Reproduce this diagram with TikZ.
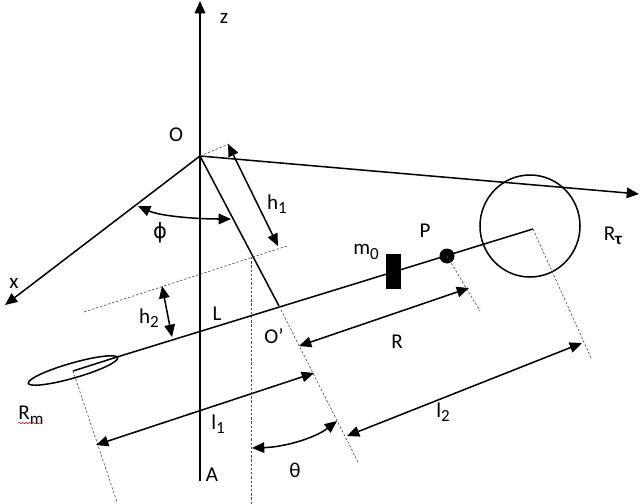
\documentclass[tikz,border=0pt]{standalone}
\usepackage{fontspec}
\setmainfont{Carlito}
\newfontfamily\symbfont{DejaVu Sans}
\usetikzlibrary{arrows.meta,decorations.pathmorphing}
\newcommand{\lowtxt}[1]{\raisebox{-0.45ex}{\fontsize{14.5}{15}\selectfont #1}}
\tikzset{
    tipshape/.tip={Triangle[length=10.5pt,width=9pt]},
    axisline/.style={line width=1.3pt},
    arrowline/.style={line width=1.3pt, -tipshape},
    bothline/.style={line width=1.3pt, tipshape-tipshape},
    guideline/.style={gray!60!black, line width=0.55pt, dash pattern=on 2pt off 1.6pt},
    lbl/.style={inner sep=0pt, font=\fontsize{18}{20}\selectfont}
}
\begin{document}
\begin{tikzpicture}[x=0.03cm, y=-0.03cm]
    \useasboundingbox (0,0) rectangle (640,504);

    \coordinate (O) at (200,156);
    \coordinate (Ztop) at (200,1);
    \coordinate (A) at (200,481);
    \coordinate (X) at (5,305);
    \coordinate (Y) at (639,194);
    \coordinate (Op) at (279,306);
    \coordinate (Opend) at (359,464);
    \coordinate (Bm) at (73,371);
    \coordinate (Bt) at (533,229);
    \coordinate (Bm2) at (117,357);
    \coordinate (P) at (447,256);
    \coordinate (Pend) at (480,311);
    \coordinate (Btend) at (592,360);
    \coordinate (Bmend) at (117,502);
    \coordinate (Vtop) at (251,257);
    \coordinate (Vend) at (251,504);
    \coordinate (Ha) at (84,312);
    \coordinate (Hb) at (287,246);
    \coordinate (Hc) at (229,144);

    % Axes and the main rods.
    \draw [arrowline] (A) -- (Ztop);
    \draw [arrowline] (O) -- (X);
    \draw [arrowline] (O) -- (Y);
    \draw [axisline] (O) -- (Op);
    \draw [axisline] (Bm) -- (Bm2);
    \draw [axisline] (Bm2) -- (Bt);

    % Rings and the mass.
    \draw [axisline] (73,370.5) ellipse [x radius=46.5, y radius=7.5, rotate=16];
    \draw [axisline] (530,226) circle [x radius=50, y radius=51];
    \fill (386,254) rectangle (401,289);
    \fill (P) circle [radius=7.5];

    % Thin guides.
    \draw [guideline] (Op) -- (Opend);
    \draw [guideline] (P) -- (Pend);
    \draw [guideline] (Bt) -- (Btend);
    \draw [guideline] (Bm) -- (Bmend);
    \draw [guideline] (Vtop) -- (Vend);
    \draw [guideline] (Ha) -- (Hb);
    \draw [guideline] (O) -- (Hc);

    % Dimensions.
    \draw [bothline] (228,144) -- (278,246);
    \draw [bothline] (162,286) -- (172,337);
    \draw [bothline] (299,346) -- (469,288);
    \draw [bothline] (96,445) -- (314,373);
    \draw [bothline] (347,436) -- (582,343);

    % Angles.
    \draw [bothline] (138,206) .. controls (160,216) and (195,219) .. (231,219);
    \draw [bothline] (252,448) .. controls (285,447) and (315,438) .. (337,421);

    % Label the parts.
    \node [lbl] (zlbl) at (224,18) {z};
    \node [lbl] (Olbl) at (176,135) {O};
    \node [lbl] (xlbl) at (14,283) {x};
    \node [lbl] (h1lbl) at (277,204) {h\lowtxt{1}};
    \node [lbl] (philbl) at (160,233) {\symbfont ϕ};
    \node [lbl] (h2lbl) at (149,318) {h\lowtxt{2}};
    \node [lbl] (Llbl) at (217,314) {L};
    \node [lbl] (Oplbl) at (274,336) {O’};
    \node [lbl] (m0lbl) at (366,252) {m\lowtxt{0}};
    \node [lbl] (Plbl) at (425,231) {P};
    \node [lbl] (Rlbl) at (397,342) {R};
    \node [lbl] (Rtlbl) at (613,236) {R\lowtxt{\textbf{τ}}};
    \node [lbl] (Rmlbl) at (31,415) {R\lowtxt{m}};
    \node [lbl] (l1lbl) at (218,424) {l\lowtxt{1}};
    \node [lbl] (l2lbl) at (443,412) {l\lowtxt{2}};
    \node [lbl] (Albl) at (212,475) {A};
    \node [lbl] (thlbl) at (295,470) {θ};

    \draw [red!80!black, line width=0.5pt, decorate, decoration={snake, amplitude=0.5pt, segment length=3pt}] (18,423) -- (41,423);
\end{tikzpicture}
\end{document}
